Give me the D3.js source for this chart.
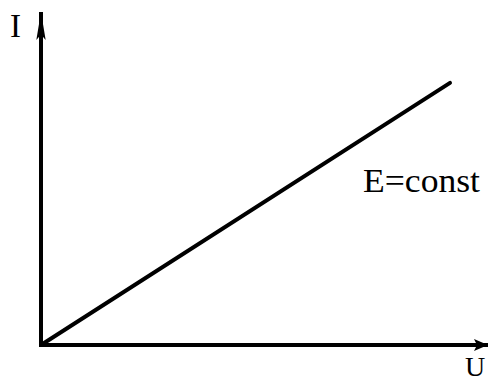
<!DOCTYPE html>
<html>
<head>
<meta charset="utf-8">
<script src="https://cdn.jsdelivr.net/npm/d3@7"></script>
<style>
  html, body { margin: 0; padding: 0; background: #fff; }
  svg { display: block; }
</style>
</head>
<body>
<div class="chart"></div>
<script>
// data
const uValues = [0, 9.15];
const iValues = [0, 7.87];
const axisLabels = ['U', 'I'];
const lineLabel = 'E=const';

const width = 492, height = 383;

const x = d3.scaleLinear().domain([0, 10]).range([41, 488]);
const y = d3.scaleLinear().domain([0, 10]).range([345, 12]);

const svg = d3.select('.chart')
  .append('svg')
  .attr('width', width)
  .attr('height', height);

const defs = svg.append('defs');

defs.append('marker')
  .attr('id', 'arrY')
  .attr('viewBox', '0 0 10 30')
  .attr('refX', 5).attr('refY', 0)
  .attr('markerWidth', 10).attr('markerHeight', 28)
  .attr('markerUnits', 'userSpaceOnUse')
  .attr('orient', 0)
  .append('path')
  .attr('d', 'M5,0 L10,30 L5,24 L0,30 Z')
  .attr('fill', '#000');

defs.append('marker')
  .attr('id', 'arrX')
  .attr('viewBox', '0 0 14 12')
  .attr('refX', 14).attr('refY', 6)
  .attr('markerWidth', 14).attr('markerHeight', 12)
  .attr('markerUnits', 'userSpaceOnUse')
  .attr('orient', 0)
  .append('path')
  .attr('d', 'M0,0 L14,6 L0,12 L3,6 Z')
  .attr('fill', '#000');

// axes, no ticks
svg.append('line')
  .attr('x1', x(0)).attr('y1', y(0) + 2)
  .attr('x2', x(0)).attr('y2', y(10))
  .attr('stroke', '#000').attr('stroke-width', 4)
  .attr('marker-end', 'url(#arrY)');

svg.append('line')
  .attr('x1', x(0) - 2).attr('y1', y(0))
  .attr('x2', x(10)).attr('y2', y(0))
  .attr('stroke', '#000').attr('stroke-width', 4)
  .attr('marker-end', 'url(#arrX)');

const line = d3.line()
  .x(d => x(d[0]))
  .y(d => y(d[1]));

svg.append('path')
  .datum(uValues.map((u, i) => [u, iValues[i]]))
  .attr('d', line)
  .attr('fill', 'none')
  .attr('stroke', '#000')
  .attr('stroke-width', 4)
  .attr('stroke-linecap', 'round');

const font = '"Liberation Serif", "Times New Roman", serif';

svg.append('text')
  .attr('x', 10).attr('y', 37)
  .attr('font-family', font)
  .attr('font-size', 33)
  .text(axisLabels[1]);

svg.append('text')
  .attr('x', 465).attr('y', 376)
  .attr('font-family', font)
  .attr('font-size', 28)
  .text(axisLabels[0]);

svg.append('text')
  .attr('x', 363).attr('y', 192)
  .attr('font-family', font)
  .attr('font-size', 33)
  .attr('textLength', 117)
  .attr('lengthAdjust', 'spacingAndGlyphs')
  .text(lineLabel);
</script>
</body>
</html>
